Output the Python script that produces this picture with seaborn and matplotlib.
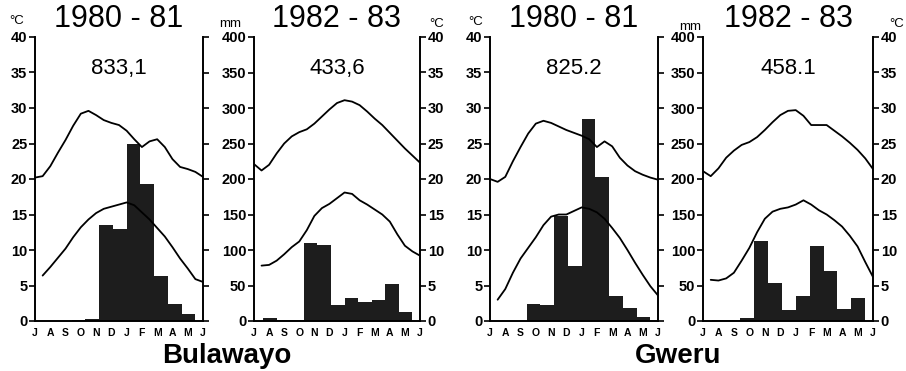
import numpy as np
import pandas as pd
import matplotlib
matplotlib.use("Agg")
import matplotlib.pyplot as plt
import seaborn as sns

sns.set_style("white")
plt.rcParams['font.family'] = ['Liberation Sans', 'DejaVu Sans']

# ---------------- data ----------------
month_letters = ['J', 'A', 'S', 'O', 'N', 'D', 'J', 'F', 'M', 'A', 'M', 'J']
month_names = ['Jul', 'Aug', 'Sep', 'Oct', 'Nov', 'Dec', 'Jan', 'Feb', 'Mar', 'Apr', 'May', 'Jun']
half_months = [0, 0.5, 1, 1.5, 2, 2.5, 3, 3.5, 4, 4.5, 5, 5.5,
               6, 6.5, 7, 7.5, 8, 8.5, 9, 9.5, 10, 10.5, 11]
nan = np.nan

titles = ['1980 - 81', '1982 - 83', '1980 - 81', '1982 - 83']
totals = ['833,1', '433,6', '825.2', '458.1']
stations = ['Bulawayo', 'Gweru']

# temperature (deg C), half-monthly readings Jul -> Jun
bul_8081_tmax = [20.2, 20.4, 21.8, 23.7, 25.5, 27.5, 29.2, 29.6, 29.0, 28.3, 27.9, 27.6,
                 26.8, 25.6, 24.5, 25.3, 25.6, 24.5, 22.8, 21.7, 21.4, 21.0, 20.3]
bul_8081_tmin = [nan, 6.4, 7.6, 8.9, 10.2, 11.8, 13.2, 14.3, 15.2, 15.8, 16.1, 16.4,
                 16.7, 16.3, 15.3, 14.3, 13.1, 11.9, 10.4, 8.8, 7.4, 5.9, 5.5]
bul_8283_tmax = [22.1, 21.2, 22.0, 23.6, 25.0, 26.0, 26.6, 27.0, 27.8, 28.8, 29.8, 30.7,
                 31.1, 30.9, 30.4, 29.5, 28.5, 27.6, 26.5, 25.4, 24.3, 23.3, 22.3]
bul_8283_tmin = [nan, 7.8, 7.9, 8.5, 9.4, 10.4, 11.2, 12.8, 14.8, 15.9, 16.5, 17.3,
                 18.1, 17.9, 17.0, 16.4, 15.7, 15.0, 14.0, 12.2, 10.6, 9.8, 9.2]
gwe_8081_tmax = [20.0, 19.6, 20.3, 22.5, 24.5, 26.4, 27.8, 28.2, 27.9, 27.4, 26.9, 26.5,
                 26.1, 25.6, 24.5, 25.3, 24.6, 23.0, 21.9, 21.1, 20.6, 20.2, 19.9]
gwe_8081_tmin = [nan, 3.0, 4.5, 6.8, 8.8, 10.3, 11.8, 13.5, 14.7, 15.0, 15.0, 15.5,
                 16.0, 15.8, 15.3, 14.4, 13.1, 11.7, 10.0, 8.2, 6.5, 4.9, 3.6]
gwe_8283_tmax = [21.1, 20.4, 21.5, 23.0, 24.0, 24.8, 25.2, 25.9, 26.9, 28.0, 29.0, 29.6,
                 29.7, 28.9, 27.6, 27.6, 27.6, 26.8, 26.0, 25.1, 24.1, 22.9, 21.4]
gwe_8283_tmin = [nan, 5.8, 5.7, 6.0, 6.8, 8.5, 10.3, 12.5, 14.4, 15.4, 15.8, 16.0,
                 16.4, 17.0, 16.4, 15.6, 15.0, 14.2, 13.3, 12.0, 10.5, 8.3, 6.2]

# monthly rainfall (mm), Jul -> Jun
bul_8081_rain = [0, 0, 2, 3, 135, 130, 250, 193, 63, 24, 10, 0]
bul_8283_rain = [4, 1, 2, 110, 107, 23, 32, 27, 29, 52, 12, 0]
gwe_8081_rain = [0, 0, 24, 22, 148, 78, 285, 203, 35, 18, 5, 0]
gwe_8283_rain = [2, 2, 4, 112, 53, 15, 35, 106, 70, 17, 33, 0]

tmax_all = [bul_8081_tmax, bul_8283_tmax, gwe_8081_tmax, gwe_8283_tmax]
tmin_all = [bul_8081_tmin, bul_8283_tmin, gwe_8081_tmin, gwe_8283_tmin]
rain_all = [bul_8081_rain, bul_8283_rain, gwe_8081_rain, gwe_8283_rain]

# ---------------- layout ----------------
W, H = 906, 371
fig = plt.figure(figsize=(W / 100, H / 100), dpi=100)
fig.patch.set_facecolor('white')

TOP, BOT = 37, 321
panel_px = [(35, 203), (254, 420), (490, 658), (703, 873)]
degc_side = ['left', 'right', 'left', 'right']
mm_labels = [False, True, False, True]

def rect(l, r):
    return [l / W, 1 - BOT / H, (r - l) / W, (BOT - TOP) / H]

BAR_COLOR = '#1d1d1d'
LBL_SIZE = 10.5

for i in range(4):
    l, r = panel_px[i]
    side = degc_side[i]
    other = 'right' if side == 'left' else 'left'

    axb = fig.add_axes(rect(l, r), zorder=1)
    ax = fig.add_axes(rect(l, r), zorder=2)
    ax.patch.set_alpha(0)

    # rainfall bars (mm axis)
    sns.barplot(x=month_names, y=rain_all[i], color=BAR_COLOR, saturation=1,
                width=1, linewidth=0, ax=axb)
    axb.set_xlim(-1.1667, 11.056)
    axb.set_ylim(0, 400)
    axb.set_xticks([])
    axb.set_xlabel('')
    axb.set_ylabel('')
    for s in ['top', 'bottom', side]:
        axb.spines[s].set_visible(False)
    axb.spines[other].set_linewidth(1.4)
    axb.spines[other].set_color('black')
    axb.yaxis.set_ticks_position(other)
    axb.set_yticks(range(0, 401, 50),
                   labels=[str(v) for v in range(0, 401, 50)],
                   fontweight='bold', fontsize=LBL_SIZE)
    axb.tick_params(axis='y', which='major', direction='out', length=4, width=1.2,
                    pad=1.5, colors='black',
                    left=(other == 'left'), right=(other == 'right'),
                    labelleft=(other == 'left' and mm_labels[i]),
                    labelright=(other == 'right' and mm_labels[i]))

    # temperature curves (deg C axis)
    df = pd.DataFrame({'m': half_months, 'tmax': tmax_all[i], 'tmin': tmin_all[i]})
    for col in ['tmax', 'tmin']:
        d = df[['m', col]].dropna()
        sns.lineplot(x=d['m'].values, y=d[col].values, color='black',
                     linewidth=1.3, ax=ax)
    ax.set_xlim(0, 11)
    ax.set_ylim(0, 40)
    ax.set_xlabel('')
    ax.set_ylabel('')
    for s in ['top', other]:
        ax.spines[s].set_visible(False)
    for s in ['bottom', side]:
        ax.spines[s].set_linewidth(1.4)
        ax.spines[s].set_color('black')
    ax.yaxis.set_ticks_position(side)
    ax.set_yticks(range(0, 41, 5), labels=[str(v) for v in range(0, 41, 5)],
                  fontweight='bold', fontsize=LBL_SIZE)
    ax.tick_params(axis='y', which='major', direction='out', length=4, width=1.2,
                   pad=1.5, colors='black',
                   left=(side == 'left'), right=(side == 'right'),
                   labelleft=(side == 'left'), labelright=(side == 'right'))
    ax.set_xticks(range(12), labels=month_letters, fontweight='bold', fontsize=7.5)
    ax.tick_params(axis='x', length=0, pad=5, colors='black')

    ax.text(0.5, 1 + (TOP - 19) / (BOT - TOP), titles[i], transform=ax.transAxes,
            ha='center', va='center', fontsize=22, color='black')
    ax.text(5.5, 35.5, totals[i], ha='center', va='center', fontsize=16,
            color='black')

# unit labels
units = [('°C', 17, 21), ('mm', 230, 24), ('°C', 437, 24),
         ('°C', 476, 22), ('mm', 690, 27), ('°C', 897, 24)]
for txt, px, py in units:
    fig.text(px / W, 1 - py / H, txt, ha='center', va='center', fontsize=9.5,
             color='black')

# station names
fig.text(227 / W, 1 - 356 / H, stations[0], ha='center', va='center',
         fontsize=20, fontweight='bold', color='black')
fig.text(678 / W, 1 - 356 / H, stations[1], ha='center', va='center',
         fontsize=20, fontweight='bold', color='black')

fig.savefig('out.png', dpi=100, facecolor='white')
